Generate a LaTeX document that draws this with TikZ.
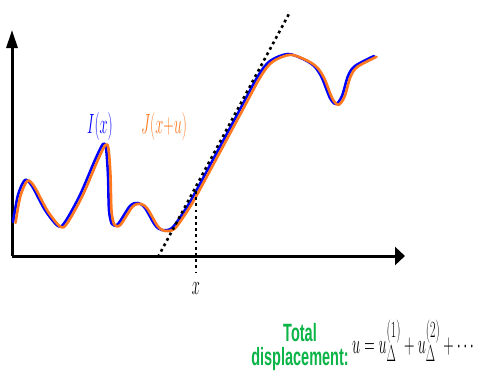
\documentclass[tikz,border=0pt]{standalone}
\usepackage{fontspec}
\usepackage{graphicx}
\usetikzlibrary{arrows.meta}
\newfontfamily\narrowsans[FakeStretch=0.58]{Liberation Sans}
\newcommand{\squish}[1]{\scalebox{0.58}[1.12]{#1}}
\definecolor{iblue}{RGB}{0,0,255}
\definecolor{jorange}{RGB}{255,120,30}
\definecolor{dispgreen}{RGB}{10,180,70}
\begin{document}
\begin{tikzpicture}[x=1pt, y=-1pt,
    axis/.style={line width=3pt},
    wavepath/.style={line width=2.6pt, line join=round, line cap=round},
    tangent/.style={line width=2.6pt, dash pattern=on 2.8pt off 3.4pt},
    lbl/.style={inner sep=0pt, font=\fontsize{24.88}{30}\selectfont},
    wave/.pic={\draw[pic actions] plot[smooth, tension=0.5] coordinates {
        (13,222) (18,195) (25,180) (32,186) (45,210) (58,226) (65,222)
        (80,195) (95,160) (103,144) (106,148) (108,175) (109,210) (112,224)
        (118,224) (130,206) (138,203) (145,208) (155,225) (162,230) (172,228)
        (185,210) (195,193) (220,146.6) (240,109.4) (258,76) (270,61) (288,54)
        (305,60) (315,67) (322,78) (330,98) (336,104) (342,96) (348,76)
        (355,66) (374,56)};}
]
\useasboundingbox (0,0) rectangle (484,378);

\coordinate (O) at (12,256);
\coordinate (ytip) at (12,30);
\coordinate (xtip) at (405,256);
\draw[axis, -{Triangle[length=18pt,width=11pt]}] (O) -- (ytip);
\draw[axis, -{Triangle[length=10pt,width=18pt]}] (O) -- (xtip);

\pic[wavepath, draw=iblue] at (0,0) {wave};
\pic[wavepath, draw=jorange] at (2.5,0.8) {wave};

\coordinate (tlow) at (158,257);
\coordinate (thigh) at (290,12);
\coordinate (touch) at (196,191);
\coordinate (foot) at (196,272);
\draw[tangent] (tlow) -- (thigh);
\draw[tangent] (touch) -- (foot);

\node[lbl, text=iblue, anchor=base] (ilab) at (100,133) {\squish{$I(x)$}};
\node[lbl, text=jorange, anchor=base] (jlab) at (164,133) {\squish{$J(x{+}u)$}};
\node[lbl, anchor=base] (xlab) at (196,294) {\squish{$x$}};

\node[inner sep=0pt, text=dispgreen, align=center, font=\narrowsans\bfseries\fontsize{25}{24}\selectfont] (total) at (300,347) {Total\\displacement:};
\node[lbl, anchor=base west] (ueq) at (352,353) {\squish{$u = u_\Delta^{(1)} + u_\Delta^{(2)} + \cdots$}};
\end{tikzpicture}
\end{document}
